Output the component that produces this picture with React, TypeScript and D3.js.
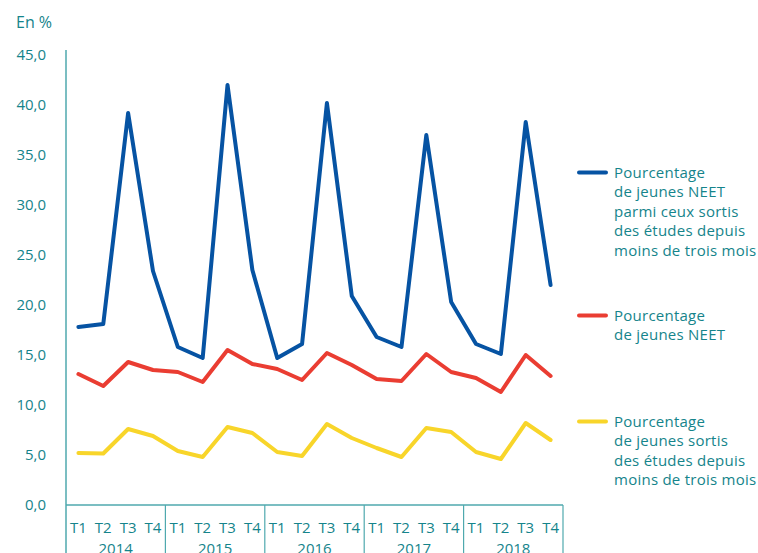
import React from 'react'
import * as d3 from 'd3'

const years = ['2014', '2015', '2016', '2017', '2018']
const quarters = ['T1', 'T2', 'T3', 'T4']
const yTicks = [0, 5, 10, 15, 20, 25, 30, 35, 40, 45]

// pourcentage de jeunes NEET parmi ceux sortis des études depuis moins de trois mois
const neetRecent = [
  17.8, 18.1, 39.2, 23.4,
  15.8, 14.7, 42.0, 23.5,
  14.7, 16.1, 40.2, 20.9,
  16.8, 15.8, 37.0, 20.3,
  16.1, 15.1, 38.3, 22.0
]
// pourcentage de jeunes NEET
const neet = [
  13.1, 11.9, 14.3, 13.5,
  13.3, 12.3, 15.5, 14.1,
  13.6, 12.5, 15.2, 14.0,
  12.6, 12.4, 15.1, 13.3,
  12.7, 11.3, 15.0, 12.9
]
// pourcentage de jeunes sortis des études depuis moins de trois mois
const recent = [
  5.2, 5.15, 7.6, 6.9,
  5.4, 4.8, 7.8, 7.2,
  5.3, 4.9, 8.1, 6.7,
  5.7, 4.8, 7.7, 7.3,
  5.3, 4.6, 8.2, 6.5
]

const teal = '#15848b'
const axisColor = '#4fa9ae'
const font = '"Open Sans", sans-serif'

const series = [
  {
    values: neetRecent,
    color: '#0653a3',
    legendY: 172.5,
    lines: ['Pourcentage', 'de jeunes NEET', 'parmi ceux sortis', 'des études depuis', 'moins de trois mois']
  },
  {values: neet, color: '#ea3d32', legendY: 315.5, lines: ['Pourcentage', 'de jeunes NEET']},
  {
    values: recent,
    color: '#f8d52a',
    legendY: 421.5,
    lines: ['Pourcentage', 'de jeunes sortis', 'des études depuis', 'moins de trois mois']
  }
]

const fr = d3.formatLocale({decimal: ',', thousands: ' ', grouping: [3], currency: ['', ' €']})
const fmt = fr.format('.1f')

export default function App() {
  const width = 758
  const height = 553
  const left = 66
  const right = 563
  const bottom = 505

  const labels = years.flatMap(yr => quarters.map(q => yr + q))
  const x = d3.scaleBand().domain(labels).range([left, right])
  const xYear = d3.scaleBand().domain(years).range([left, right])
  const y = d3.scaleLinear().domain([0, 45]).range([bottom, 55])

  const line = d3
    .line<number>()
    .x((d, i) => (x(labels[i]) as number) + x.bandwidth() / 2)
    .y(d => y(d))

  return (
    <div style={{position: 'absolute', left: 0, top: 0}}>
      <svg width={width} height={height} style={{display: 'block', fontFamily: font, fontWeight: 500}}>
        <text x={16} y={28} fill={teal} fontSize={16}>
          En %
        </text>

        {/* axe vertical */}
        <line x1={left} x2={left} y1={50} y2={height} stroke={axisColor} strokeWidth={1.5} />
        {yTicks.map(t => (
          <text key={t} x={46} y={y(t)} dy="0.35em" textAnchor="end" fill={teal} fontSize={15}>
            {fmt(t)}
          </text>
        ))}

        {/* axe horizontal */}
        <line x1={left} x2={right} y1={bottom} y2={bottom} stroke={axisColor} strokeWidth={1.5} />
        {years.map(yr => (
          <line
            key={'sep' + yr}
            x1={(xYear(yr) as number) + xYear.bandwidth()}
            x2={(xYear(yr) as number) + xYear.bandwidth()}
            y1={bottom}
            y2={height}
            stroke={axisColor}
            strokeWidth={1.2}
          />
        ))}
        {labels.map((l, i) => (
          <text
            key={l}
            x={(x(l) as number) + x.bandwidth() / 2}
            y={533}
            textAnchor="middle"
            fill={teal}
            fontSize={15}
          >
            {quarters[i % 4]}
          </text>
        ))}
        {years.map(yr => (
          <text
            key={yr}
            x={(xYear(yr) as number) + xYear.bandwidth() / 2}
            y={554}
            textAnchor="middle"
            fill={teal}
            fontSize={15}
          >
            {yr}
          </text>
        ))}

        {series.map((s, k) => (
          <path
            key={'s' + k}
            d={line(s.values) as string}
            fill="none"
            stroke={s.color}
            strokeWidth={4}
            strokeLinejoin="round"
            strokeLinecap="round"
          />
        ))}

        {/* légende */}
        {series.map((s, k) => (
          <g key={'lg' + k}>
            <line
              x1={579}
              x2={606}
              y1={s.legendY}
              y2={s.legendY}
              stroke={s.color}
              strokeWidth={4}
              strokeLinecap="round"
            />
            {s.lines.map((t, j) => (
              <text
                key={j}
                x={614}
                y={s.legendY + 5.5 + j * 19.4}
                fill={teal}
                fontSize={15}
                letterSpacing={0.25}
              >
                {t}
              </text>
            ))}
          </g>
        ))}
      </svg>
    </div>
  )
}
